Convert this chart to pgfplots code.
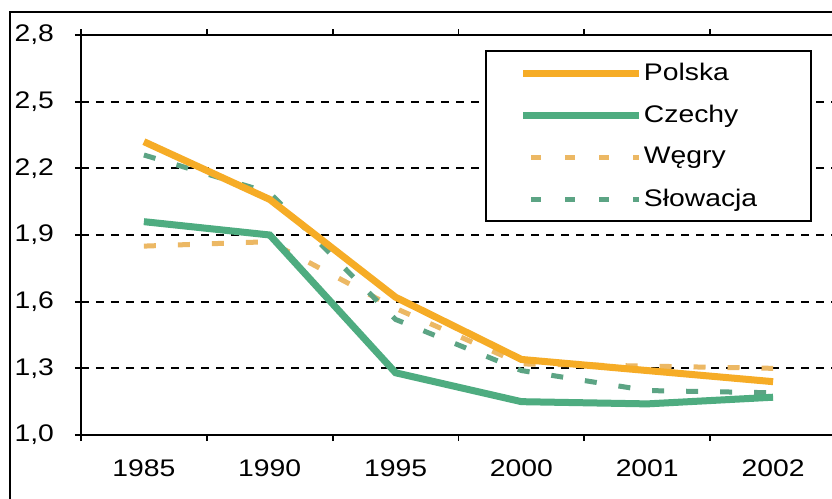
\documentclass[border=0pt]{standalone}
\usepackage{fontspec}
\setmainfont[FakeStretch=1.18]{Liberation Sans}
\usepackage{pgfplots}
\pgfplotsset{compat=1.18}
\definecolor{cOr}{RGB}{246,172,38}
\definecolor{cGr}{RGB}{78,172,128}
\definecolor{cOrL}{RGB}{236,184,100}
\definecolor{cGrL}{RGB}{92,164,132}
\newcommand{\legtxt}[1]{\makebox[66pt][l]{#1}}
\begin{document}
\begin{tikzpicture}
\useasboundingbox (0,0) rectangle (416pt,249.5pt);
\clip (0,0) rectangle (416pt,249.5pt);
\fill[white] (0,0) rectangle (416pt,249.5pt);
\draw[line width=1pt] (5pt,-5pt) -- (5pt,243.5pt) -- (430pt,243.5pt);
\begin{axis}[
  scale only axis, width=377.5pt, height=200pt,
  at={(40.5pt,32pt)}, anchor=south west,
  xmin=-0.5, xmax=5.5, ymin=1, ymax=2.8,
  xtick={-0.5,0.5,1.5,2.5,3.5,4.5,5.5},
  x tick label as interval,
  xticklabels={1985,1990,1995,2000,2001,2002,},
  ytick={1,1.3,1.6,1.9,2.2,2.5,2.8},
  tick align=outside, major tick length=3pt,
  tick style={black, line width=0.9pt},
  axis line style={black, line width=1pt},
  ymajorgrids, grid style={black, line width=0.9pt, dash pattern=on 4pt off 3.5pt},
  /pgf/number format/.cd, fixed, fixed zerofill, precision=1, use comma, assume math mode=true,
  /pgfplots/.cd,
  ticklabel style={font=\fontsize{12pt}{14pt}\selectfont},
  yticklabel style={xshift=-7pt},
  xticklabel style={yshift=-6pt},
  legend style={at={(0.535,0.9625)}, anchor=north west, draw=black, line width=1pt,
    inner xsep=17pt, inner ysep=0.5pt, row sep=0pt,
    font=\fontsize{12pt}{14pt}\selectfont,
    nodes={minimum height=21pt, inner xsep=0.5pt, anchor=west}},
  legend image code/.code={\draw[#1] (0pt,0pt) -- (58pt,0pt);},
  legend cell align=left,
]
\addlegendimage{cOr, line width=3.5pt}
\addlegendentry{\legtxt{Polska}}
\addlegendimage{cGr, line width=3.5pt}
\addlegendentry{\legtxt{Czechy}}
\addlegendimage{cOrL, line width=2.5pt, dash pattern=on 5pt off 12pt, dash phase=-4pt}
\addlegendentry{\legtxt{Węgry}}
\addlegendimage{cGrL, line width=2.5pt, dash pattern=on 5pt off 12pt, dash phase=-4pt}
\addlegendentry{\legtxt{Słowacja}}
\addplot[forget plot, cOrL, line width=2.5pt, dash pattern=on 6pt off 11pt] coordinates {(0,1.85) (1,1.87) (2,1.57) (3,1.32) (4,1.31) (5,1.30)};
\addplot[forget plot, cGrL, line width=2.5pt, dash pattern=on 6pt off 11pt] coordinates {(0,2.26) (1,2.09) (2,1.52) (3,1.29) (4,1.20) (5,1.19)};
\addplot[forget plot, cGr, line width=3.5pt] coordinates {(0,1.96) (1,1.90) (2,1.28) (3,1.15) (4,1.14) (5,1.17)};
\addplot[forget plot, cOr, line width=3.5pt] coordinates {(0,2.32) (1,2.06) (2,1.62) (3,1.34) (4,1.29) (5,1.24)};
\end{axis}
\end{tikzpicture}
\end{document}
